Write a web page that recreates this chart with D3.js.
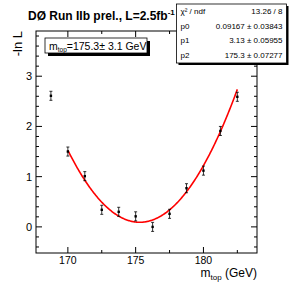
<!DOCTYPE html>
<html>
<head>
<meta charset="utf-8">
<script src="https://cdn.jsdelivr.net/npm/d3@7"></script>
<style>
  body { margin: 0; background: #fff; }
  svg { font-family: "Liberation Sans", Arial, sans-serif; }
</style>
</head>
<body>
<div id="chart"></div>
<script>
// measured points (m_top in GeV, -ln L)
var masses = [168.75, 170, 171.25, 172.5, 173.75, 175, 176.25, 177.5, 178.75, 180, 181.25, 182.5];
var nll = [2.61, 1.50, 1.01, 0.34, 0.30, 0.21, 0.0, 0.26, 0.77, 1.12, 1.91, 2.59];
var errs = [0.09, 0.09, 0.09, 0.09, 0.09, 0.09, 0.09, 0.09, 0.09, 0.09, 0.09, 0.09];

// fit result from the stats box
var fitPars = [0.09167, 3.13, 175.3];
var fitRange = [170, 182.5];
var statRows = [
    ["χ² / ndf", "13.26 / 8"],
    ["p0", "0.09167 ± 0.03843"],
    ["p1", "3.13 ± 0.05955"],
    ["p2", "175.3 ± 0.07277"]
];

var xTicks = [170, 175, 180];
var yTicks = [0, 1, 2, 3];

const W = 300, H = 287;
const margin = { top: 31, right: 43, bottom: 34, left: 36 },
    width = W - margin.left - margin.right,
    height = H - margin.top - margin.bottom;

const svg = d3.select("#chart").append("svg")
    .attr("width", W)
    .attr("height", H);

const g = svg.append("g")
    .attr("transform", `translate(${margin.left},${margin.top})`);

const x = d3.scaleLinear().domain([167.65, 183.95]).range([0, width]);
const y = d3.scaleLinear().domain([-0.52, 3.9]).range([height, 0]);

// frame
g.append("rect")
    .attr("width", width).attr("height", height)
    .attr("fill", "none").attr("stroke", "#000").attr("stroke-width", 1);

// ticks (ROOT style, inward, on all sides)
var xMinor = d3.range(167.5, 184.01, 2.5).filter(v => v > 167.65 && v < 183.95);
var yMinor = d3.range(-0.4, 3.81, 0.2).map(v => Math.round(v * 10) / 10);

xMinor.forEach(v => {
    var len = (Math.abs(v % 5) < 0.01) ? 6 : 3;
    g.append("line").attr("x1", x(v)).attr("x2", x(v))
        .attr("y1", height).attr("y2", height - len).attr("stroke", "#000");
    g.append("line").attr("x1", x(v)).attr("x2", x(v))
        .attr("y1", 0).attr("y2", len).attr("stroke", "#000");
});
yMinor.forEach(v => {
    var len = (Math.abs(v - Math.round(v)) < 0.01) ? 6 : 3;
    g.append("line").attr("x1", 0).attr("x2", len)
        .attr("y1", y(v)).attr("y2", y(v)).attr("stroke", "#000");
    g.append("line").attr("x1", width).attr("x2", width - len)
        .attr("y1", y(v)).attr("y2", y(v)).attr("stroke", "#000");
});

// tick labels
g.selectAll(".xl").data(xTicks).enter().append("text")
    .attr("x", d => x(d)).attr("y", height + 10.5)
    .attr("text-anchor", "middle").attr("font-size", 10.5)
    .text(d => d);
g.selectAll(".yl").data(yTicks).enter().append("text")
    .attr("x", -4).attr("y", d => y(d) + 4)
    .attr("text-anchor", "end").attr("font-size", 11)
    .text(d => d);

// axis titles
const xt = svg.append("text")
    .attr("x", margin.left + width).attr("y", 277)
    .attr("text-anchor", "end").attr("font-size", 12);
xt.append("tspan").text("m");
xt.append("tspan").attr("font-size", 8).attr("dy", 3).text("top");
xt.append("tspan").attr("dy", -3).text(" (GeV)");

svg.append("text")
    .attr("transform", `translate(22,${margin.top}) rotate(-90)`)
    .attr("text-anchor", "end").attr("font-size", 13)
    .text("-ln L");

// fit curve
const fitFn = m => fitPars[0] + 0.5 * Math.pow((m - fitPars[2]) / fitPars[1], 2);
const fitPts = d3.range(fitRange[0], fitRange[1] + 0.001, 0.05).map(m => [m, fitFn(m)]);
g.append("path")
    .datum(fitPts)
    .attr("fill", "none").attr("stroke", "#ff0000").attr("stroke-width", 1.6)
    .attr("d", d3.line().x(d => x(d[0])).y(d => y(d[1])));

// points with error bars
masses.forEach((m, i) => {
    var px = x(m), lo = y(nll[i] - errs[i]), hi = y(nll[i] + errs[i]);
    g.append("line").attr("x1", px).attr("x2", px).attr("y1", lo).attr("y2", hi)
        .attr("stroke", "#000").attr("stroke-width", 0.8);
    [lo, hi].forEach(yy => g.append("line")
        .attr("x1", px - 1.5).attr("x2", px + 1.5).attr("y1", yy).attr("y2", yy)
        .attr("stroke", "#000").attr("stroke-width", 0.8));
    g.append("rect").attr("x", px - 1.2).attr("y", y(nll[i]) - 1.2)
        .attr("width", 2.4).attr("height", 2.4).attr("fill", "#000");
});

// title
const tt = svg.append("text")
    .attr("x", 28).attr("y", 20)
    .attr("font-size", 12).attr("font-weight", "bold");
tt.append("tspan").text("DØ Run IIb prel., L=2.5fb");
tt.append("tspan").attr("font-size", 8).attr("dy", -5).text("-1");

// legend box with shadow
svg.append("rect").attr("x", 48).attr("y", 41).attr("width", 102).attr("height", 15).attr("fill", "#000");
svg.append("rect").attr("x", 45).attr("y", 38).attr("width", 102).attr("height", 15)
    .attr("fill", "#fff").attr("stroke", "#000").attr("stroke-width", 0.8);
const lt = svg.append("text").attr("x", 49).attr("y", 49.5).attr("font-size", 10.5);
lt.append("tspan").text("m");
lt.append("tspan").attr("font-size", 6.5).attr("dy", 2).text("top");
lt.append("tspan").attr("dy", -2).text("=175.3± 3.1 GeV");

// stats box
const sx = 176.5, sy = 4, sw = 110, sh = 59;
svg.append("rect").attr("x", sx + 2).attr("y", sy + 2).attr("width", sw).attr("height", sh).attr("fill", "#000");
svg.append("rect").attr("x", sx).attr("y", sy).attr("width", sw).attr("height", sh)
    .attr("fill", "#fff").attr("stroke", "#000").attr("stroke-width", 0.8);
statRows.forEach((r, i) => {
    var ty = sy + 10 + i * 14.5;
    svg.append("text").attr("x", sx + 4).attr("y", ty).attr("font-size", 8).text(r[0]);
    svg.append("text").attr("x", sx + sw - 4).attr("y", ty).attr("font-size", 8)
        .attr("text-anchor", "end").text(r[1]);
});
</script>
</body>
</html>
